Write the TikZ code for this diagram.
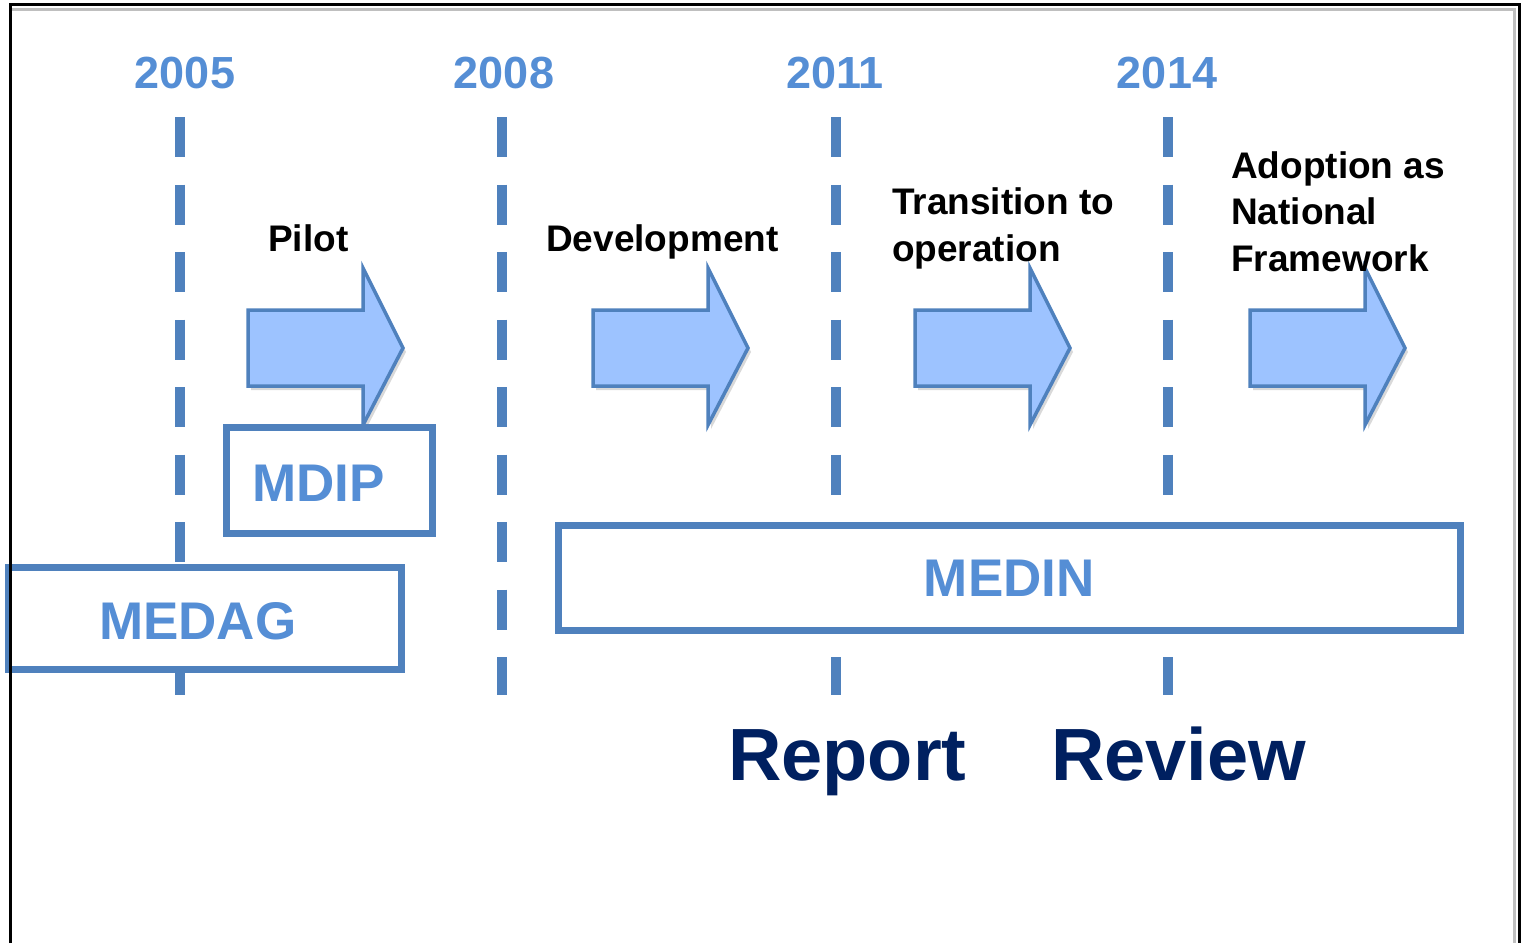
\documentclass[tikz,border=0pt]{standalone}
\usepackage{fontspec}
\setmainfont{Liberation Sans}
\usepackage{tikz}
\usetikzlibrary{positioning}

\definecolor{boxblue}{RGB}{79,129,189}
\definecolor{yearblue}{RGB}{85,142,213}
\definecolor{arrowfill}{RGB}{157,195,255}
\definecolor{navy}{RGB}{0,32,96}

\begin{document}
\begin{tikzpicture}[x=1pt,y=-1pt,
  year/.style={text=yearblue,font=\fontsize{45}{54}\selectfont\bfseries,inner sep=0pt,anchor=base},
  timeline/.style={draw=boxblue,line width=10pt,dash pattern=on 40pt off 27.5pt},
  phase/.style={font=\fontsize{37}{46.5}\selectfont\bfseries,inner sep=0pt,align=left,anchor=base west},
  phasearrow/.style={draw=boxblue,line width=3.5pt,fill=arrowfill,line join=miter},
  group/.style={draw=boxblue,line width=7pt,fill=white,inner sep=0pt},
  grouplabel/.style={text=yearblue,font=\fontsize{53}{60}\selectfont\bfseries,inner sep=0pt},
  milestone/.style={text=navy,font=\fontsize{74}{80}\selectfont\bfseries,inner sep=0pt,anchor=base west}]

  \useasboundingbox (0,0) rectangle (1523,943);

  % years and dashed lines
  \foreach \x/\yx/\yr/\name in {180/185/2005/a,502/504/2008/b,836/835/2011/c,1168/1167/2014/d} {
    \coordinate (top\name) at (\x,117);
    \coordinate (bot\name) at (\x,695);
    \draw[timeline] (top\name) -- (bot\name);
    \node[year] (year\name) at (\yx,88) {\yr};
  }

  % phase arrows
  \foreach \x in {248,593,915,1250} {
    \fill[black!15,xshift=3pt,yshift=-4pt] (\x,310) -- (\x+115,310) -- (\x+115,268)
      -- (\x+155,348) -- (\x+115,425) -- (\x+115,386) -- (\x,386) -- cycle;
    \draw[phasearrow] (\x,310) -- (\x+115,310) -- (\x+115,268)
      -- (\x+155,348) -- (\x+115,425) -- (\x+115,386) -- (\x,386) -- cycle;
  }

  \node[phase] (pilot) at (268,251) {Pilot};
  \node[phase] (dev)   at (546,251) {Development};
  \node[phase] (trans) at (892,261) {Transition to\\operation};
  \node[phase] (adopt) at (1231,271) {Adoption as\\National\\Framework};

  % groups
  \node[group,minimum width=206pt,minimum height=106pt]   (mdip)  at (329.5,480.5) {};
  \node[group,minimum width=393.5pt,minimum height=102pt] (medag) at (204.75,618.5) {};
  \node[group,minimum width=901.5pt,minimum height=105pt] (medin) at (1009.25,578) {};

  \node[grouplabel] (mdiplabel)  at ([xshift=-11pt,yshift=-2.5pt]mdip.center) {MDIP};
  \node[grouplabel] (medaglabel) at ([xshift=-7pt,yshift=-2.5pt]medag.center) {MEDAG};
  \node[grouplabel] (medinlabel) at (medin.center) {MEDIN};

  \node[milestone] (report) at (728,780) {Report};
  \node[milestone] (review) at (1051,780) {Review};

  % frame
  \draw[black!25,line width=3pt] (10,9.5) -- (1514,9.5) -- (1514,943);
  \draw[line width=3pt] (10,943) -- (10,4) -- (1519,4) -- (1519,943);
\end{tikzpicture}
\end{document}
